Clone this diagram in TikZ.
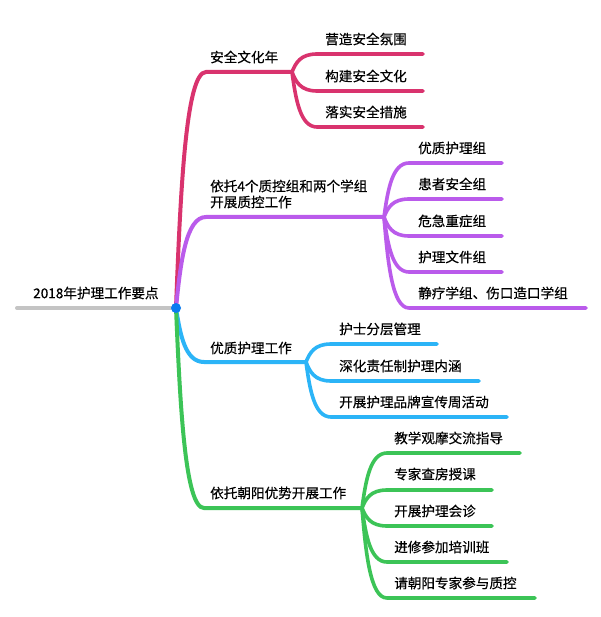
\documentclass[tikz,border=0pt]{standalone}
\usepackage{fontspec}
\setmainfont{Noto Sans CJK SC}[FakeBold=0.4]
\usetikzlibrary{calc}
\definecolor{cRed}{HTML}{D9336E}
\definecolor{cPur}{HTML}{BA5BEB}
\definecolor{cBlu}{HTML}{2BB4F7}
\definecolor{cGrn}{HTML}{3CC457}
\definecolor{cGry}{HTML}{C4C4C4}
\definecolor{cDot}{HTML}{0A7BF0}
\newcommand\mmlink[4]{\draw[#4] let \p1=(#1), \p2=(#2) in (#1) .. controls ({\x1+0.15*(\x2-\x1)},{\y1+0.5*(\y2-\y1)}) and ({\x1+0.33*(\x2-\x1)},\y2) .. (#2) -- (#3);}
\begin{document}
\begin{tikzpicture}[x=1pt,y=-1pt,
  lbl/.style={anchor=west, inner sep=0pt, font=\fontsize{13.6}{16}\selectfont},
  mainline/.style={line width=4pt, line cap=round},
  subline/.style={line width=3.6pt, line cap=round}]
\useasboundingbox[fill=white] (0,0) rectangle (600,617);
% root
\coordinate (R) at (176,308);
\coordinate (R0) at (17,308);
\node[lbl] (root) at (33,293) {2018年护理工作要点};
\draw[mainline, cGry] (R0) -- (R);
% branch 1
\coordinate (b1s) at (206,72); \coordinate (b1e) at (292,72);
\node[lbl] (t1) at (210,57) {安全文化年};
\mmlink{R}{b1s}{b1e}{mainline,cRed}
\foreach \i/\y/\xe/\yt/\txt in {1/54/423/39/营造安全氛围, 2/91/423/76/构建安全文化, 3/127/423/112/落实安全措施}{
  \coordinate (c1s\i) at (317,\y); \coordinate (c1e\i) at (\xe,\y);
  \node[lbl] (t1\i) at (325,\yt) {\txt};
  \mmlink{b1e}{c1s\i}{c1e\i}{subline,cRed}
}
% branch 2
\coordinate (b2s) at (206,217); \coordinate (b2e) at (384,217);
\node[lbl, align=left] (t2) at (210,194) {依托4个质控组和两个学组\\开展质控工作};
\mmlink{R}{b2s}{b2e}{mainline,cPur}
\foreach \i/\y/\xe/\yt/\txt in {1/163/502/148/优质护理组, 2/199/502/184/患者安全组, 3/236/502/221/危急重症组, 4/272/502/257/护理文件组, 5/308/586/293/静疗学组、伤口造口学组}{
  \coordinate (c2s\i) at (409,\y); \coordinate (c2e\i) at (\xe,\y);
  \node[lbl] (t2\i) at (418,\yt) {\txt};
  \mmlink{b2e}{c2s\i}{c2e\i}{subline,cPur}
}
% branch 3
\coordinate (b3s) at (204,362); \coordinate (b3e) at (306,362);
\node[lbl] (t3) at (210,348) {优质护理工作};
\mmlink{R}{b3s}{b3e}{mainline,cBlu}
\foreach \i/\y/\xe/\yt/\txt in {1/344/437/329/护士分层管理, 2/381/479/366/深化责任制护理内涵, 3/417/507/402/开展护理品牌宣传周活动}{
  \coordinate (c3s\i) at (331,\y); \coordinate (c3e\i) at (\xe,\y);
  \node[lbl] (t3\i) at (339,\yt) {\txt};
  \mmlink{b3e}{c3s\i}{c3e\i}{subline,cBlu}
}
% branch 4
\coordinate (b4s) at (204,508); \coordinate (b4e) at (362,508);
\node[lbl] (t4) at (210,493) {依托朝阳优势开展工作};
\mmlink{R}{b4s}{b4e}{mainline,cGrn}
\foreach \i/\y/\xe/\yt/\txt in {1/453/520/438/教学观摩交流指导, 2/490/492/474/专家查房授课, 3/526/492/511/开展护理会诊, 4/562/507/547/进修参加培训班, 5/598/535/583/请朝阳专家参与质控}{
  \coordinate (c4s\i) at (387,\y); \coordinate (c4e\i) at (\xe,\y);
  \node[lbl] (t4\i) at (394,\yt) {\txt};
  \mmlink{b4e}{c4s\i}{c4e\i}{subline,cGrn}
}
\fill[cDot] (R) circle (5);
\end{tikzpicture}
\end{document}
